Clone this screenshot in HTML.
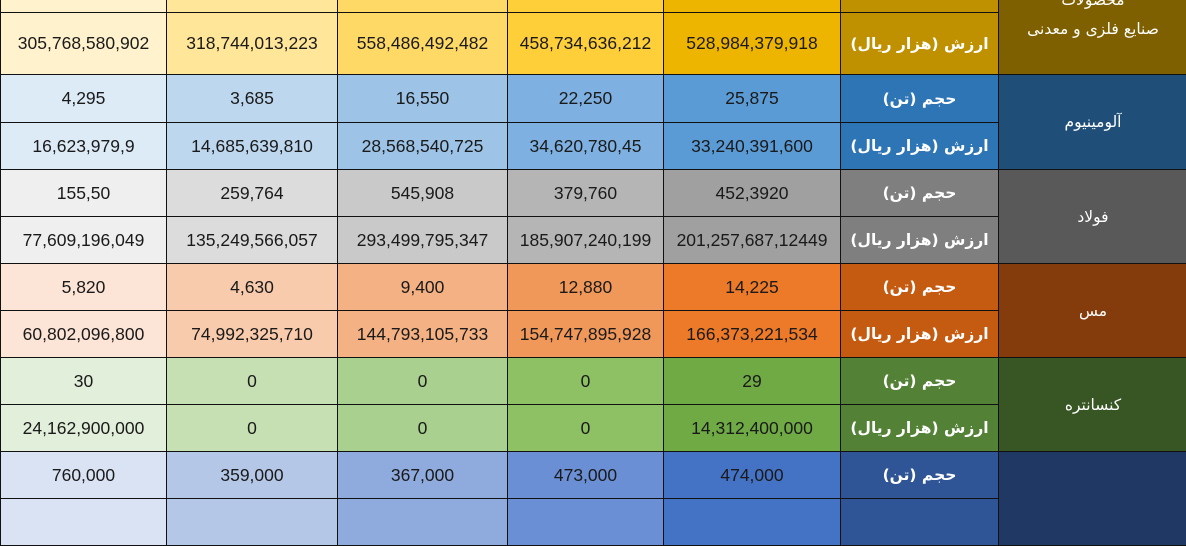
<!DOCTYPE html>
<html><head><meta charset="utf-8"><style>
html,body{margin:0;padding:0;width:1186px;height:480px;overflow:hidden;background:#fff}
table{position:absolute;left:0;top:-28px;border-collapse:collapse;table-layout:fixed;width:1187px}
td{border:1px solid #111;text-align:center;vertical-align:middle;padding:0;font-family:"Liberation Sans",sans-serif;font-size:17.5px;color:#1a1a1a;overflow:hidden;white-space:nowrap}
td.l{color:#fff;font-family:"DejaVu Sans",sans-serif;font-size:15.5px;font-weight:bold}
td.c{color:#fff;font-family:"DejaVu Sans",sans-serif;font-size:15.5px}
tr{height:47px}
</style></head><body>
<table>
<colgroup><col style="width:166px"><col style="width:171px"><col style="width:170px"><col style="width:156px"><col style="width:177px"><col style="width:158px"><col style="width:189px"></colgroup>
<tr style="height:40px"><td style="background:#FFF2CC"></td><td style="background:#FFE699"></td><td style="background:#FFD966"></td><td style="background:#FFCF3A"></td><td style="background:#EEB500"></td><td class="l" style="background:#BF9000"></td>
<td class="c" rowspan="2" style="background:#7F6000;vertical-align:top;padding-top:13px;line-height:29px">محصولات<br>صنایع فلزی و معدنی</td></tr>
<tr style="height:62px"><td style="background:#FFF2CC">305,768,580,902</td><td style="background:#FFE699">318,744,013,223</td><td style="background:#FFD966">558,486,492,482</td><td style="background:#FFCF3A">458,734,636,212</td><td style="background:#EEB500">528,984,379,918</td><td class="l" style="background:#BF9000">ارزش (هزار ریال)</td></tr>

<tr style="height:48px"><td style="background:#DDEBF7">4,295</td><td style="background:#BDD7EE">3,685</td><td style="background:#9DC3E6">16,550</td><td style="background:#7EB1E1">22,250</td><td style="background:#5B9BD5">25,875</td><td class="l" style="background:#2E75B6">حجم (تن)</td><td class="c" rowspan="2" style="background:#1F4E79">آلومینیوم</td></tr>
<tr><td style="background:#DDEBF7">16,623,979,9</td><td style="background:#BDD7EE">14,685,639,810</td><td style="background:#9DC3E6">28,568,540,725</td><td style="background:#7EB1E1">34,620,780,45</td><td style="background:#5B9BD5">33,240,391,600</td><td class="l" style="background:#2E75B6">ارزش (هزار ریال)</td></tr>

<tr><td style="background:#EFEFEF">155,50</td><td style="background:#DCDCDC">259,764</td><td style="background:#C9C9C9">545,908</td><td style="background:#B5B5B5">379,760</td><td style="background:#A0A0A0">452,3920</td><td class="l" style="background:#7F7F7F">حجم (تن)</td><td class="c" rowspan="2" style="background:#595959">فولاد</td></tr>
<tr><td style="background:#EFEFEF">77,609,196,049</td><td style="background:#DCDCDC">135,249,566,057</td><td style="background:#C9C9C9">293,499,795,347</td><td style="background:#B5B5B5">185,907,240,199</td><td style="background:#A0A0A0">201,257,687,12449</td><td class="l" style="background:#7F7F7F">ارزش (هزار ریال)</td></tr>

<tr><td style="background:#FCE4D6">5,820</td><td style="background:#F8CBAD">4,630</td><td style="background:#F4B183">9,400</td><td style="background:#F0985A">12,880</td><td style="background:#EC7A28">14,225</td><td class="l" style="background:#C55A11">حجم (تن)</td><td class="c" rowspan="2" style="background:#843C0C">مس</td></tr>
<tr><td style="background:#FCE4D6">60,802,096,800</td><td style="background:#F8CBAD">74,992,325,710</td><td style="background:#F4B183">144,793,105,733</td><td style="background:#F0985A">154,747,895,928</td><td style="background:#EC7A28">166,373,221,534</td><td class="l" style="background:#C55A11">ارزش (هزار ریال)</td></tr>

<tr><td style="background:#E2EFDA">30</td><td style="background:#C6E0B4">0</td><td style="background:#A9D08E">0</td><td style="background:#8DC163">0</td><td style="background:#6FAA45">29</td><td class="l" style="background:#538135">حجم (تن)</td><td class="c" rowspan="2" style="background:#375623">کنسانتره</td></tr>
<tr><td style="background:#E2EFDA">24,162,900,000</td><td style="background:#C6E0B4">0</td><td style="background:#A9D08E">0</td><td style="background:#8DC163">0</td><td style="background:#6FAA45">14,312,400,000</td><td class="l" style="background:#538135">ارزش (هزار ریال)</td></tr>

<tr><td style="background:#DAE3F3">760,000</td><td style="background:#B4C7E7">359,000</td><td style="background:#8FAADC">367,000</td><td style="background:#6A8FD4">473,000</td><td style="background:#4472C4">474,000</td><td class="l" style="background:#2F5597">حجم (تن)</td><td class="c" rowspan="2" style="background:#1F3864"></td></tr>
<tr><td style="background:#DAE3F3"></td><td style="background:#B4C7E7"></td><td style="background:#8FAADC"></td><td style="background:#6A8FD4"></td><td style="background:#4472C4"></td><td class="l" style="background:#2F5597"></td></tr>
</table>
</body></html>
